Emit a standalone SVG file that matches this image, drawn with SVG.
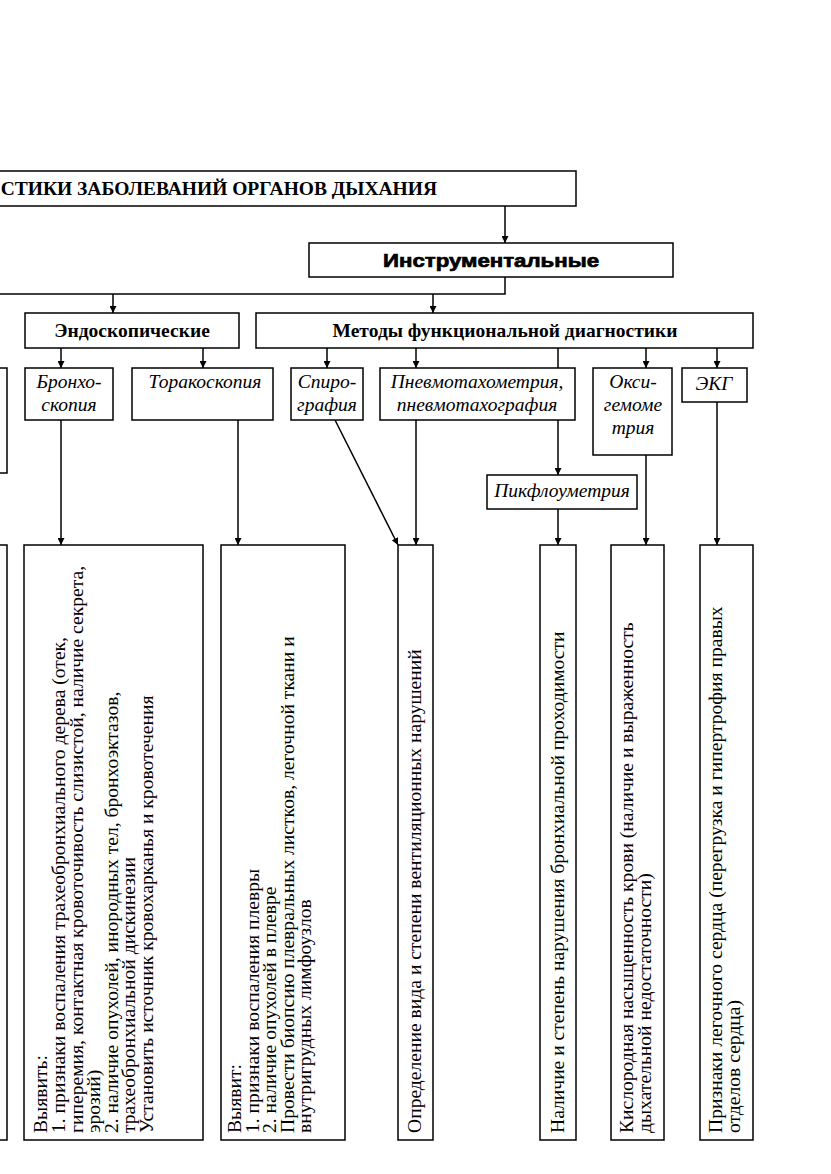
<svg xmlns="http://www.w3.org/2000/svg" width="831" height="1174" viewBox="0 0 831 1174">
<style>
.box{fill:#fff;stroke:#000;stroke-width:1.5}
.ln{fill:none;stroke:#000;stroke-width:1.5}
.hb{font-family:"Liberation Serif","Times New Roman",serif;font-weight:bold;font-size:19.5px;fill:#000}
.hs{font-family:"Liberation Sans",Arial,sans-serif;font-weight:bold;font-size:19px;fill:#000;stroke:#000;stroke-width:0.7}
.it{font-family:"Liberation Serif","Times New Roman",serif;font-style:italic;font-size:19.5px;fill:#000;text-anchor:middle}
.vt{font-family:"Liberation Serif","Times New Roman",serif;font-size:18.5px;fill:#000}
</style>
<defs>
<marker id="ar" viewBox="0 0 10 10" refX="10" refY="5" markerWidth="7" markerHeight="7" markerUnits="userSpaceOnUse" orient="auto">
<path d="M0,0 L10,5 L0,10 z" fill="#000"/>
</marker>
</defs>
<rect width="831" height="1174" fill="#fff"/>

<g id="connectors">
<line class="ln" x1="505" y1="206" x2="505" y2="243" marker-end="url(#ar)"/>
<polyline class="ln" points="505,277 505,294 -5,294"/>
<line class="ln" x1="113" y1="294" x2="113" y2="313" marker-end="url(#ar)"/>
<line class="ln" x1="433" y1="294" x2="433" y2="313" marker-end="url(#ar)"/>
<line class="ln" x1="61" y1="348" x2="61" y2="368" marker-end="url(#ar)"/>
<line class="ln" x1="203" y1="348" x2="203" y2="368" marker-end="url(#ar)"/>
<line class="ln" x1="327" y1="348" x2="327" y2="368" marker-end="url(#ar)"/>
<line class="ln" x1="416" y1="348" x2="416" y2="368" marker-end="url(#ar)"/>
<line class="ln" x1="558" y1="348" x2="558" y2="368"/>
<line class="ln" x1="646" y1="348" x2="646" y2="368" marker-end="url(#ar)"/>
<line class="ln" x1="717" y1="348" x2="717" y2="368" marker-end="url(#ar)"/>
<line class="ln" x1="558" y1="420" x2="558" y2="475" marker-end="url(#ar)"/>
<line class="ln" x1="61" y1="420" x2="61" y2="545" marker-end="url(#ar)"/>
<line class="ln" x1="238" y1="420" x2="238" y2="545" marker-end="url(#ar)"/>
<line class="ln" x1="335" y1="420" x2="398" y2="545" marker-end="url(#ar)"/>
<line class="ln" x1="416" y1="420" x2="416" y2="545" marker-end="url(#ar)"/>
<line class="ln" x1="558" y1="509" x2="558" y2="545" marker-end="url(#ar)"/>
<line class="ln" x1="646" y1="455" x2="646" y2="545" marker-end="url(#ar)"/>
<line class="ln" x1="717" y1="402" x2="717" y2="545" marker-end="url(#ar)"/>
</g>

<g id="title">
<rect class="box" x="-10" y="171" width="586" height="35"/>
<text class="hb" x="437" y="195" text-anchor="end">СТИКИ ЗАБОЛЕВАНИЙ ОРГАНОВ ДЫХАНИЯ</text>
</g>
<g id="instr">
<rect class="box" x="309" y="243" width="364" height="34"/>
<text class="hs" x="491" y="267" text-anchor="middle" textLength="216" lengthAdjust="spacingAndGlyphs">Инструментальные</text>
</g>
<g id="endo">
<rect class="box" x="25" y="313" width="214" height="35"/>
<text class="hb" x="132" y="337" text-anchor="middle">Эндоскопические</text>
</g>
<g id="func">
<rect class="box" x="256" y="313" width="497" height="35"/>
<text class="hb" x="505" y="337" text-anchor="middle">Методы функциональной диагностики</text>
</g>

<g id="leftpart">
<rect class="box" x="-10" y="368" width="17" height="105"/>
</g>
<g id="broncho">
<rect class="box" x="25" y="368" width="88" height="52"/>
<text class="it" x="69" y="388">Бронхо-</text>
<text class="it" x="69" y="411">скопия</text>
</g>
<g id="thoraco">
<rect class="box" x="132" y="368" width="141" height="52"/>
<text class="it" x="205" y="388">Торакоскопия</text>
</g>
<g id="spiro">
<rect class="box" x="291" y="368" width="72" height="52"/>
<text class="it" x="327" y="388">Спиро-</text>
<text class="it" x="327" y="411">графия</text>
</g>
<g id="pneumo">
<rect class="box" x="380" y="368" width="195" height="52"/>
<text class="it" x="477" y="388">Пневмотахометрия,</text>
<text class="it" x="477" y="411">пневмотахография</text>
</g>
<g id="oxy">
<rect class="box" x="593" y="368" width="79" height="87"/>
<text class="it" x="633" y="388">Окси-</text>
<text class="it" x="633" y="411">гемоме</text>
<text class="it" x="633" y="434">трия</text>
</g>
<g id="ekg">
<rect class="box" x="682" y="368" width="65" height="34"/>
<text class="it" x="714" y="390">ЭКГ</text>
</g>
<g id="peakflow">
<rect class="box" x="487" y="475" width="150" height="34"/>
<text class="it" x="562" y="497">Пикфлоуметрия</text>
</g>

<g id="leftbig">
<rect class="box" x="-10" y="545" width="17" height="595"/>
</g>
<g id="broncho-res">
<rect class="box" x="24" y="545" width="179" height="595"/>
<g transform="translate(0,1133) rotate(-90) scale(1.06,1)" class="vt">
<text x="0" y="47">Выявить:</text>
<text x="0" y="65">1. признаки воспаления  трахеобронхиального дерева (отек,</text>
<text x="0" y="83">гиперемия, контактная кровоточивость слизистой, наличие секрета,</text>
<text x="0" y="100">эрозий)</text>
<text x="0" y="118">2. наличие опухолей, инородных тел, бронхоэктазов,</text>
<text x="0" y="135">трахеобронхиальной дискинезии</text>
<text x="0" y="153">Установить источник кровохарканья и кровотечения</text>
</g>
</g>
<g id="thoraco-res">
<rect class="box" x="221" y="545" width="124" height="595"/>
<g transform="translate(0,1133) rotate(-90) scale(1.06,1)" class="vt">
<text x="0" y="241">Выявит:</text>
<text x="0" y="259">1. признаки воспаления  плевры</text>
<text x="0" y="276">2. наличие опухолей в плевре</text>
<text x="0" y="294">Провести биопсию плевральных листков, легочной ткани и</text>
<text x="0" y="311">внутригрудных лимфоузлов</text>
</g>
</g>
<g id="spiro-res">
<rect class="box" x="398" y="545" width="35" height="595"/>
<g transform="translate(0,1133) rotate(-90) scale(1.06,1)" class="vt">
<text x="0" y="421">Определение вида и степени вентиляционных нарушений</text>
</g>
</g>
<g id="peak-res">
<rect class="box" x="540" y="545" width="36" height="595"/>
<g transform="translate(0,1133) rotate(-90) scale(1.06,1)" class="vt">
<text x="0" y="564">Наличие и степень нарушения бронхиальной проходимости</text>
</g>
</g>
<g id="oxy-res">
<rect class="box" x="611" y="545" width="53" height="595"/>
<g transform="translate(0,1133) rotate(-90) scale(1.06,1)" class="vt">
<text x="0" y="633">Кислородная насыщенность крови (наличие и выраженность</text>
<text x="0" y="651">дыхательной недостаточности)</text>
</g>
</g>
<g id="ekg-res">
<rect class="box" x="700" y="545" width="53" height="595"/>
<g transform="translate(0,1133) rotate(-90) scale(1.06,1)" class="vt">
<text x="0" y="722">Признаки  легочного сердца (перегрузка и гипертрофия правых</text>
<text x="0" y="740">отделов сердца)</text>
</g>
</g>
</svg>
